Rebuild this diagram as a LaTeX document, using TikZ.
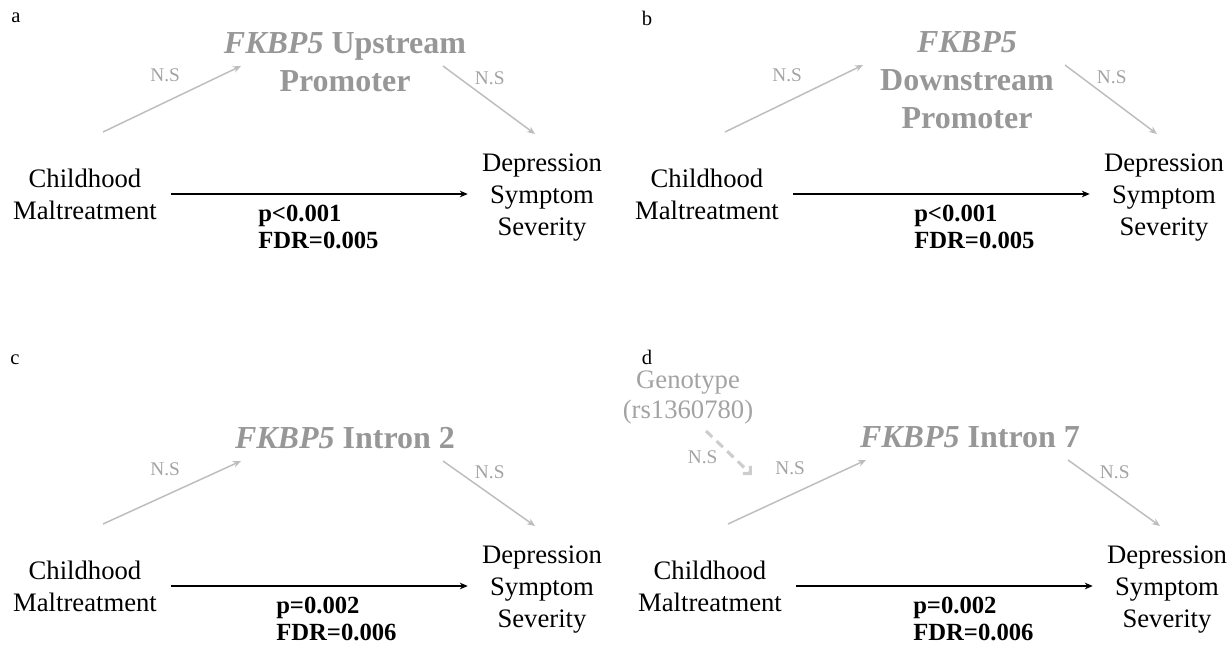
\documentclass[tikz,border=0pt]{standalone}
\usepackage{fontspec}
\setmainfont{Liberation Serif}
\usetikzlibrary{positioning,arrows.meta}
\definecolor{medgray}{HTML}{979797}
\definecolor{pathgray}{HTML}{BDBDBD}
\definecolor{nsgray}{HTML}{A3A3A3}
\definecolor{dashgray}{HTML}{CDCDCD}

\begin{document}
\begin{tikzpicture}[x=0.75pt,y=-0.75pt,
      var/.style={align=center,inner sep=0pt,font=\fontsize{20}{24}\selectfont},
      med/.style={align=center,inner sep=0pt,text=medgray,font=\bfseries\fontsize{24}{28.5}\selectfont},
      stat/.style={align=left,inner sep=0pt,font=\bfseries\fontsize{18.5}{19.8}\selectfont},
      nslab/.style={inner sep=0pt,text=nsgray,font=\fontsize{14.5}{17}\selectfont},
      tag/.style={inner sep=0pt,font=\fontsize{15.5}{18}\selectfont},
      main/.style={line width=1.4pt,-{Stealth[length=6pt,width=5pt]},shorten <=10.5pt,shorten >=10.5pt},
      ns/.style={pathgray,line width=1.1pt,-{Stealth[length=6pt,width=5pt]}},
      moddash/.style={dashgray,line width=2.3pt,dash pattern=on 6.5pt off 4.5pt,-{Straight Barb[length=4pt,width=8pt]}}]
    \useasboundingbox (0,0) rectangle (1227,645);
    % four mediation panels
    \foreach \p/\dx/\dy/\ttl/\ty/\sx/\pv/\fd in {
        a/0/0/{\textit{FKBP5} Upstream\\Promoter}/43/258/{p<0.001}/0.005,
        b/622/0/{\textit{FKBP5}\\Downstream\\Promoter}/42/292/{p<0.001}/0.005,
        c/0/392/{\textit{FKBP5} Intron 2}/46/276/{p=0.002}/0.006,
        d/625/392/{\textit{FKBP5} Intron 7}/45/288/{p=0.002}/0.006} {
      \begin{scope}[shift={(\dx,\dy)}]
        \node[var] (cm\p) at (85,194) {Childhood\\Maltreatment};
        \node[var] (dss\p) at (542,198) {Depression\\Symptom\\Severity};
        \node[med,anchor=north] (med\p) at (345,\ty-11) {\ttl};
        \node[stat,anchor=north west] (st\p) at (\sx,205) {\pv\\FDR=\fd};
        \draw[main] (cm\p.east) -- (cm\p.east -| dss\p.west);
        \draw[ns] ([shift={(18,-62)}]cm\p.center) -- ([shift={(-104,34)}]med\p.north)
          node[nslab,pos=0.45,above=14.5pt] {N.S};
        \draw[ns] ([shift={(98,34)}]med\p.north) -- ([shift={(-7,-64)}]dss\p.center)
          node[nslab,pos=0.18,anchor=west,xshift=11pt] {N.S};
      \end{scope}
    }
    % moderator in panel d
    \node[var,text=nsgray,font=\fontsize{20}{22.5}\selectfont] (gen) at (688,398) {Genotype\\(rs1360780)};
    \draw[moddash] ([shift={(18,33)}]gen.center) -- ([shift={(42,-111)}]cmd.center)
      node[nslab,pos=0.6,anchor=east,xshift=-11pt] {N.S};
    % panel letters
    \foreach \lb/\lx/\ly in {a/16/18,b/647/18,c/15/360,d/647/357}
      \node[tag] (lab\lb) at (\lx,\ly) {\lb};
  \end{tikzpicture}
\end{document}
